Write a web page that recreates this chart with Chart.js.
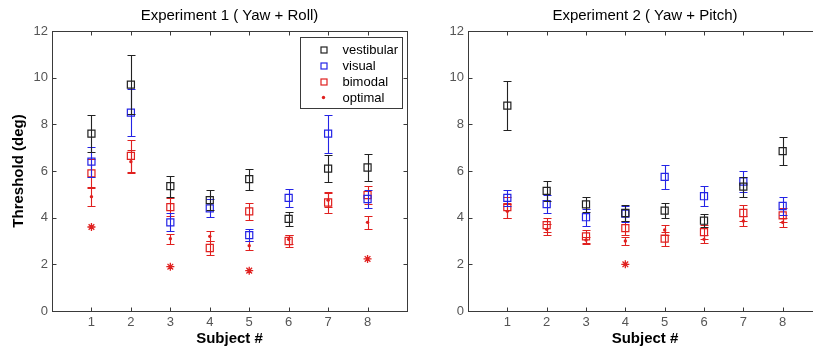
<!DOCTYPE html>
<html><head><meta charset="utf-8">
<script src="https://cdn.jsdelivr.net/npm/chart.js@4/dist/chart.umd.min.js"></script>
<style>
html,body{margin:0;padding:0;background:#fff;overflow:hidden;width:813px;height:351px;}
#wrap{position:relative;width:813px;height:351px;overflow:hidden;background:#fff;}
#c1{position:absolute;left:0;top:0;}
#c2{position:absolute;left:430px;top:0;}
</style></head><body>
<div id="wrap"><canvas id="c1" width="420" height="351"></canvas><canvas id="c2" width="400" height="351"></canvas></div>
<script>
// ---- data ----
const subjects = [1, 2, 3, 4, 5, 6, 7, 8];
const xTickLabels = ['1', '2', '3', '4', '5', '6', '7', '8'];
const yTickValues = [0, 2, 4, 6, 8, 10, 12];

// Experiment 1 (Yaw + Roll)
const vestibular1    = [7.6, 9.7, 5.35, 4.75, 5.65, 3.95, 6.1, 6.15];
const vestibularErr1 = [0.78, 1.27, 0.45, 0.42, 0.45, 0.3, 0.57, 0.6];
const visual1        = [6.4, 8.5, 3.8, 4.4, 3.25, 4.85, 7.6, 4.8];
const visualErr1     = [0.65, 1.0, 0.38, 0.38, 0.25, 0.4, 0.82, 0.4];
const bimodal1       = [5.9, 6.65, 4.45, 2.7, 4.27, 3.0, 4.65, 4.97];
const bimodalErr1    = [0.6, 0.7, 0.38, 0.3, 0.37, 0.27, 0.43, 0.4];
const optimal1       = [4.9, 6.4, 3.1, 3.2, 2.8, 3.07, 4.75, 3.8];
const optimalErr1    = [0.38, 0.5, 0.22, 0.22, 0.2, 0.2, 0.3, 0.29];
const starred1       = [3.6, null, 1.9, null, 1.73, null, null, 2.23];

// Experiment 2 (Yaw + Pitch)
const vestibular2    = [8.8, 5.15, 4.57, 4.2, 4.3, 3.87, 5.33, 6.85];
const vestibularErr2 = [1.04, 0.44, 0.33, 0.35, 0.32, 0.28, 0.43, 0.6];
const visual2        = [4.85, 4.58, 4.02, 4.17, 5.75, 4.92, 5.55, 4.5];
const visualErr2     = [0.35, 0.4, 0.37, 0.35, 0.52, 0.43, 0.47, 0.4];
const bimodal2       = [4.45, 3.68, 3.2, 3.55, 3.1, 3.38, 4.2, 4.1];
const bimodalErr2    = [0.45, 0.3, 0.27, 0.3, 0.3, 0.3, 0.35, 0.3];
const optimal2       = [4.27, 3.5, 3.04, 3.0, 3.47, 3.07, 3.86, 3.8];
const optimalErr2    = [0.3, 0.25, 0.15, 0.17, 0.2, 0.17, 0.2, 0.2];
const starred2       = [null, null, null, 2.0, null, null, null, null];

const seriesNames = ['vestibular', 'visual', 'bimodal', 'optimal'];

// ---- styles ----
const BLACK = '#222222', BLUE = '#2424e6', RED = '#e0201f', AXIS = '#3a3a3a';
const seriesColors = [BLACK, BLUE, RED, RED];
const FONT = '"Liberation Sans", Arial, sans-serif';

function pts(arr) { return subjects.map((s, i) => ({ x: s, y: arr[i] })).filter(p => p.y !== null); }
function errs(arr, err) { return subjects.map((s, i) => (arr[i] === null ? null : { x: s, y: arr[i], e: err[i] })).filter(p => p); }

function makeDatasets(v, ve, vi, vie, b, be, o, oe, st) {
  return [
    { label: seriesNames[0], data: pts(v), errorBars: errs(v, ve), errColor: BLACK, pointStyle: 'rect', pointRadius: 5, borderColor: BLACK, backgroundColor: 'rgba(0,0,0,0)', borderWidth: 1.2, showLine: false },
    { label: seriesNames[1], data: pts(vi), errorBars: errs(vi, vie), errColor: BLUE, pointStyle: 'rect', pointRadius: 5, borderColor: BLUE, backgroundColor: 'rgba(0,0,0,0)', borderWidth: 1.2, showLine: false },
    { label: seriesNames[2], data: pts(b), errorBars: errs(b, be), errColor: RED, pointStyle: 'rect', pointRadius: 5, borderColor: RED, backgroundColor: 'rgba(0,0,0,0)', borderWidth: 1.2, showLine: false },
    { label: seriesNames[3], data: pts(o), errorBars: errs(o, oe), errColor: RED, pointStyle: 'circle', pointRadius: 1.7, borderColor: RED, backgroundColor: RED, borderWidth: 0, showLine: false },
    { label: 'predicted', data: pts(st), pointStyle: 'star', pointRadius: 4, borderColor: RED, backgroundColor: RED, borderWidth: 1.3, showLine: false }
  ];
}

const errorBarPlugin = {
  id: 'errorBars',
  beforeDatasetDraw(chart, args) {
    const ds = chart.data.datasets[args.index];
    if (!ds.errorBars) return;
    const xs = chart.scales.x, ys = chart.scales.y, ctx = chart.ctx;
    ctx.save();
    ctx.strokeStyle = ds.errColor; ctx.lineWidth = 1.1;
    ds.errorBars.forEach(p => {
      const x = Math.round(xs.getPixelForValue(p.x)) + 0.5;
      const yt = Math.round(ys.getPixelForValue(p.y + p.e)) + 0.5;
      const yb = Math.round(ys.getPixelForValue(p.y - p.e)) + 0.5;
      ctx.beginPath();
      ctx.moveTo(x, yt); ctx.lineTo(x, yb);
      ctx.moveTo(x - 4, yt); ctx.lineTo(x + 4, yt);
      ctx.moveTo(x - 4, yb); ctx.lineTo(x + 4, yb);
      ctx.stroke();
    });
    ctx.restore();
  }
};

const framePlugin = {
  id: 'frame',
  beforeDatasetsDraw(chart) {
    const { ctx, chartArea: a } = chart;
    const xs = chart.scales.x, ys = chart.scales.y;
    const L = Math.round(a.left) + 0.5, R = Math.round(a.right) + 0.5, T = Math.round(a.top) + 0.5, B = Math.round(a.bottom) + 0.5;
    ctx.save();
    ctx.strokeStyle = AXIS; ctx.lineWidth = 1;
    ctx.strokeRect(L, T, R - L, B - T);
    ctx.beginPath();
    subjects.forEach(s => {
      const x = Math.round(xs.getPixelForValue(s)) + 0.5;
      ctx.moveTo(x, B); ctx.lineTo(x, B - 4);
      ctx.moveTo(x, T); ctx.lineTo(x, T + 4);
    });
    yTickValues.forEach(v => {
      const y = Math.round(ys.getPixelForValue(v)) + 0.5;
      ctx.moveTo(L, y); ctx.lineTo(L + 4, y);
      ctx.moveTo(R, y); ctx.lineTo(R - 4, y);
    });
    ctx.stroke();
    ctx.restore();
  }
};

const textPlugin = {
  id: 'texts',
  afterDraw(chart, args, opts) {
    const { ctx, chartArea: a } = chart;
    const cx = (a.left + a.right) / 2;
    ctx.save();
    ctx.fillStyle = '#000';
    ctx.textAlign = 'center'; ctx.textBaseline = 'middle';
    ctx.font = '15px ' + FONT;
    ctx.fillText(opts.title, cx, 16);
    ctx.font = 'bold 15px ' + FONT;
    ctx.fillText('Subject #', cx, 339);
    if (opts.yTitle) {
      ctx.translate(19, (a.top + a.bottom) / 2);
      ctx.rotate(-Math.PI / 2);
      ctx.fillText(opts.yTitle, 0, 0);
    }
    ctx.restore();
    if (opts.legend) {
      const bw = 102, bh = 71;
      const bx = Math.round(a.right - 5 - bw) + 0.5, by = Math.round(a.top + 6) + 0.5;
      ctx.save();
      ctx.fillStyle = '#fff'; ctx.fillRect(bx, by, bw, bh);
      ctx.strokeStyle = AXIS; ctx.lineWidth = 1; ctx.strokeRect(bx, by, bw, bh);
      ctx.font = '13px ' + FONT; ctx.textAlign = 'left'; ctx.textBaseline = 'middle';
      seriesNames.forEach((name, i) => {
        const y = by + 12 + i * 16;
        const mx = bx + 23;
        const col = seriesColors[i];
        if (i < 3) {
          ctx.strokeStyle = col; ctx.lineWidth = 1.2;
          ctx.strokeRect(Math.round(mx - 3), Math.round(y - 3), 6, 6);
        } else {
          ctx.fillStyle = col; ctx.beginPath(); ctx.arc(mx, y, 1.7, 0, Math.PI * 2); ctx.fill();
        }
        ctx.fillStyle = '#000';
        ctx.fillText(name, bx + 42, y + 1);
      });
      ctx.restore();
    }
  }
};

function makeChart(id, datasets, yWidth, padRight, opts) {
  return new Chart(document.getElementById(id), {
    type: 'line',
    data: { datasets },
    plugins: [framePlugin, errorBarPlugin, textPlugin],
    options: {
      responsive: false, animation: false, events: [],
      layout: { padding: { left: 0, right: padRight, top: 31, bottom: 0 } },
      plugins: { legend: { display: false }, title: { display: false }, tooltip: { enabled: false }, texts: opts },
      scales: {
        x: {
          type: 'linear', min: 0, max: 9,
          grid: { display: false, drawTicks: false }, border: { display: false },
          afterFit(s) { s.height = 40; },
          afterBuildTicks(s) { s.ticks = subjects.map(v => ({ value: v })); },
          ticks: { padding: 4, color: '#555', font: { family: FONT, size: 13 }, callback: (v) => xTickLabels[subjects.indexOf(v)] }
        },
        y: {
          type: 'linear', min: 0, max: 12,
          grid: { display: false, drawTicks: false }, border: { display: false },
          afterFit(s) { s.width = yWidth; },
          afterBuildTicks(s) { s.ticks = yTickValues.map(v => ({ value: v })); },
          ticks: { padding: 4, color: '#555', font: { family: FONT, size: 13 } }
        }
      }
    }
  });
}

makeChart('c1', makeDatasets(vestibular1, vestibularErr1, visual1, visualErr1, bimodal1, bimodalErr1, optimal1, optimalErr1, starred1),
  52, 13, { title: 'Experiment 1 ( Yaw + Roll)', yTitle: 'Threshold (deg)', legend: true });
makeChart('c2', makeDatasets(vestibular2, vestibularErr2, visual2, visualErr2, bimodal2, bimodalErr2, optimal2, optimalErr2, starred2),
  38, 8, { title: 'Experiment 2 ( Yaw + Pitch)', yTitle: null, legend: false });
</script>
</body></html>
